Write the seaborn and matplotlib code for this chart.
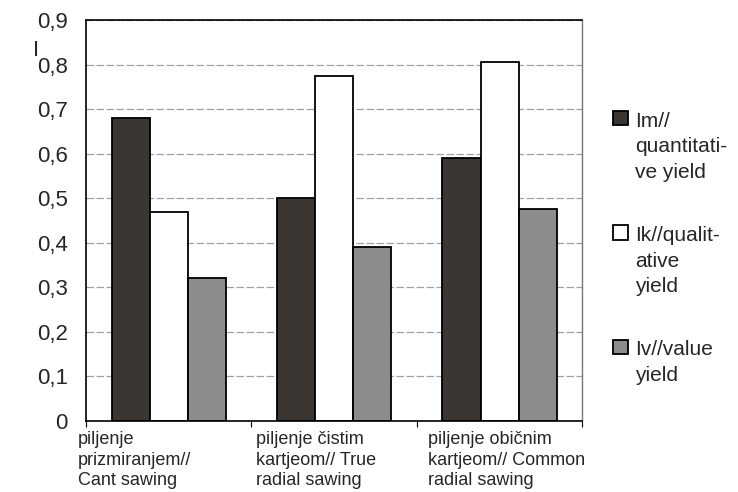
import matplotlib
matplotlib.use("Agg")
import matplotlib.pyplot as plt
import pandas as pd
import seaborn as sns
from matplotlib.legend_handler import HandlerPatch
from matplotlib.patches import Rectangle

# data
categories = ["cant", "true", "common"]
category_labels = [
    "piljenje\nprizmiranjem//\nCant sawing",
    "piljenje čistim\nkartjeom// True\nradial sawing",
    "piljenje običnim\nkartjeom// Common\nradial sawing",
]
series = ["Im", "Ik", "Iv"]
series_labels = [
    "Im//\nquantitati-\nve yield",
    "Ik//qualit-\native\nyield",
    "Iv//value\nyield",
]
im_values = [0.68, 0.50, 0.59]
ik_values = [0.47, 0.775, 0.805]
iv_values = [0.32, 0.39, 0.475]
y_ticks = [0, 0.1, 0.2, 0.3, 0.4, 0.5, 0.6, 0.7, 0.8, 0.9]

df = pd.DataFrame({
    "category": categories * 3,
    "series": ["Im"] * 3 + ["Ik"] * 3 + ["Iv"] * 3,
    "value": im_values + ik_values + iv_values,
})

sns.set_theme(style="white")
plt.rcParams["font.family"] = ["Liberation Sans", "DejaVu Sans"]

fig = plt.figure(figsize=(7.38, 4.92), dpi=100)
ax = fig.add_axes([0.1165, 0.1443, 0.6725, 0.8147])

palette = {"Im": "#3b3631", "Ik": "#ffffff", "Iv": "#8c8c8c"}
sns.barplot(data=df, x="category", y="value", hue="series", order=categories,
            hue_order=series, palette=palette, width=0.69, edgecolor="black",
            linewidth=1.3, saturation=1, ax=ax)

ax.set_ylim(0, 0.9)
ax.set_xlim(-0.5, 2.5)
ax.set_yticks(y_ticks)
ax.set_yticklabels([("%g" % t).replace(".", ",") for t in y_ticks], fontsize=16)
ax.tick_params(axis="y", length=0, pad=13)
ax.yaxis.grid(True, color="#a0a0a0", linestyle=(0, (6, 2)), linewidth=0.9)
ax.set_axisbelow(True)

# x tick marks at category boundaries, labels drawn left-aligned below
ax.set_xticks([-0.5, 0.5, 1.5, 2.5])
ax.set_xticklabels([])
ax.tick_params(axis="x", length=4, width=0.8, color="black", bottom=True)
label_x = [-0.55, 0.53, 1.57]
for x, lab in zip(label_x, category_labels):
    ax.text(x, -0.026, lab, ha="left", va="top", fontsize=13,
            linespacing=1.26, transform=ax.get_xaxis_transform())

ax.set_xlabel("")
ax.set_ylabel("I", rotation=0, fontsize=16)
ax.yaxis.set_label_coords(-0.1, 0.898)

for side in ["left", "bottom", "top"]:
    ax.spines[side].set_color("black")
    ax.spines[side].set_linewidth(1.2)
ax.spines["right"].set_color("#777777")
ax.spines["right"].set_linewidth(1.0)

leg_fs = 15
leg_ls = 1.45
pitch = 0.87 * leg_ls * leg_fs


def top_patch(n_lines):
    # put the legend square next to the first line of a multi-line label
    def make(legend, orig_handle, xdescent, ydescent, width, height, fontsize):
        shift = (n_lines - 1) / 2 * pitch + 2
        return Rectangle((-xdescent, -ydescent + shift), width, height)
    return make


handles, _ = ax.get_legend_handles_labels()
hmap = {h: HandlerPatch(patch_func=top_patch(lab.count("\n") + 1))
        for h, lab in zip(handles, series_labels)}
leg = ax.legend(handles, series_labels, loc="upper left", handler_map=hmap,
                bbox_to_anchor=(0.82, 0.79), bbox_transform=fig.transFigure,
                frameon=False, fontsize=leg_fs, labelspacing=2.1,
                handlelength=0.7, handleheight=0.7, handletextpad=0.35,
                borderaxespad=0)
for t in leg.get_texts():
    t.set_linespacing(leg_ls)

fig.savefig("out.png", dpi=100)
